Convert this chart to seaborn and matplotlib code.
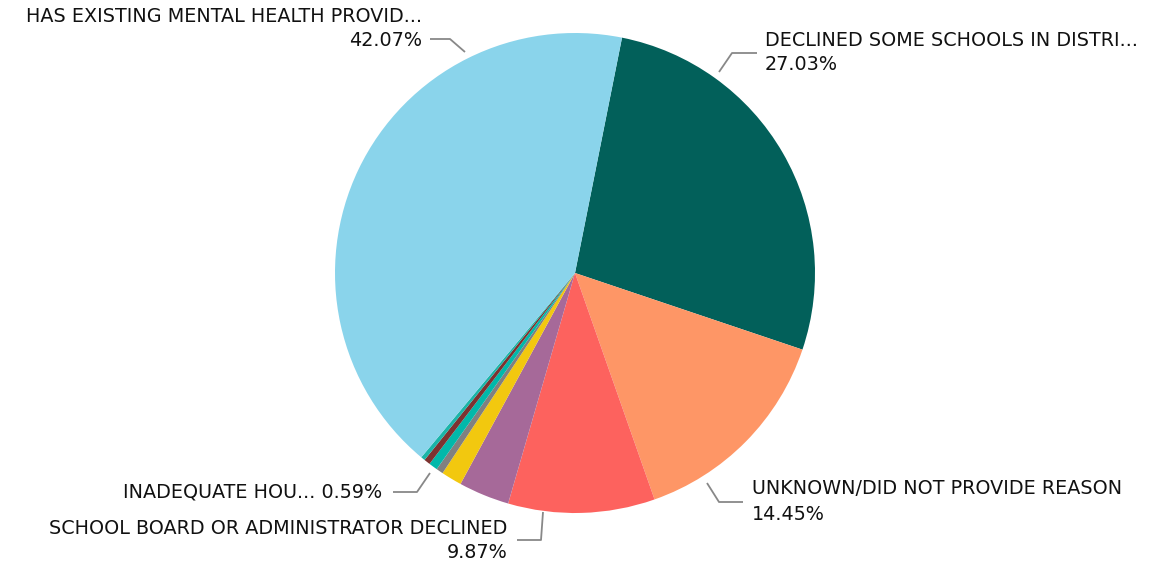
import matplotlib
matplotlib.use("Agg")
import matplotlib.pyplot as plt
import seaborn as sns

categories = [
    "DECLINED SOME SCHOOLS IN DISTRI...",
    "UNKNOWN/DID NOT PROVIDE REASON",
    "SCHOOL BOARD OR ADMINISTRATOR DECLINED",
    "OTHER A",
    "OTHER B",
    "OTHER C",
    "INADEQUATE HOU...",
    "OTHER D",
    "OTHER E",
    "HAS EXISTING MENTAL HEALTH PROVID...",
]
values = [27.03, 14.45, 9.87, 3.42, 1.39, 0.47, 0.59, 0.42, 0.28, 42.07]
colors = ["#02605A", "#FE9666", "#FD625E", "#A66999", "#F2C80F",
          "#808080", "#01B8AA", "#7D3230", "#1AB5A8", "#8AD4EB"]

sns.set_theme(style="white")
plt.rcParams["font.family"] = ["DejaVu Sans"]

W, H = 1154, 564
fig = plt.figure(figsize=(W / 100, H / 100), dpi=100)
ax = fig.add_axes([0, 0, 1, 1])

def Y(y):
    return H - y

ax.pie(values, colors=colors, startangle=78.7, counterclock=False,
       center=(575, Y(273)), radius=240, frame=True,
       wedgeprops=dict(linewidth=0))
ax.set_xlim(0, W)
ax.set_ylim(0, H)
ax.set_aspect("equal")
ax.axis("off")

tc = "#111111"
lc = "#888888"
fs = 13.8

def line(pts):
    ax.plot([p[0] for p in pts], [Y(p[1]) for p in pts], color=lc, lw=1.3,
            solid_capstyle="butt")

def lab(x, y, s, ha):
    ax.text(x, Y(y), s, ha=ha, va="center", fontsize=fs, color=tc)

# Has existing
lab(422, 16, categories[9], "right")
lab(422, 41, f"{values[9]:.2f}%", "right")
line([(430, 39), (450, 39), (465, 52)])

# Declined some schools
lab(765, 40, categories[0], "left")
lab(765, 65, f"{values[0]:.2f}%", "left")
line([(719, 72), (732, 53), (757, 53)])

# Unknown
lab(752, 489, categories[1], "left")
lab(752, 514, f"{values[1]:.2f}%", "left")
line([(707, 483), (719, 502), (743, 502)])

# School board
lab(507, 528, categories[2], "right")
lab(507, 552, f"{values[2]:.2f}%", "right")
line([(543, 512), (541, 540), (517, 540)])

# Inadequate
lab(382, 492, f"{categories[6]} {values[6]:.2f}%", "right")
line([(393, 492), (417, 492), (430, 473)])

fig.savefig("out.png", dpi=100)
